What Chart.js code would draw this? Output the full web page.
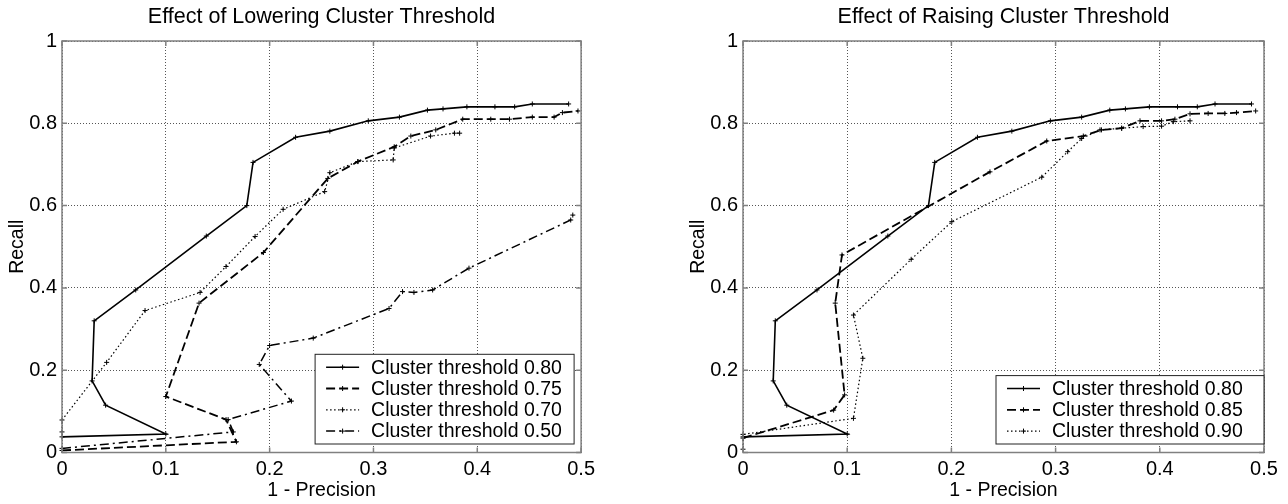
<!DOCTYPE html>
<html lang="en">
<head>
<meta charset="UTF-8" />
<title>Effect of Cluster Threshold</title>
<script src="https://cdn.jsdelivr.net/npm/chart.js"></script>
<style>
  body { margin: 0; background: #fff; width: 1288px; height: 504px; overflow: hidden; position: relative; }
  canvas { position: absolute; top: 0; }
  #lowerChart { left: 0; }
  #raiseChart { left: 681px; }
</style>
</head>
<body>
<canvas id="lowerChart" width="600" height="504"></canvas>
<canvas id="raiseChart" width="607" height="504"></canvas>
<script>
  // axis ticks
  const xTicks = [0, 0.1, 0.2, 0.3, 0.4, 0.5];
  const xTickLabels = ['0', '0.1', '0.2', '0.3', '0.4', '0.5'];
  const yTicks = [0, 0.2, 0.4, 0.6, 0.8, 1];
  const yTickLabels = ['0', '0.2', '0.4', '0.6', '0.8', '1'];

  // threshold 0.80 (same run in both plots), x = 1 - precision, y = recall
  const t80x = [0, 0.1, 0.042, 0.029, 0.031, 0.071, 0.139, 0.178, 0.184, 0.225, 0.258, 0.295, 0.325, 0.352, 0.367, 0.390, 0.417, 0.436, 0.453, 0.488];
  const t80y = [0.038, 0.045, 0.115, 0.174, 0.320, 0.395, 0.526, 0.600, 0.705, 0.766, 0.781, 0.806, 0.815, 0.832, 0.835, 0.840, 0.840, 0.840, 0.847, 0.847];

  // lowering
  const t75x = [0, 0.168, 0.158, 0.1, 0.132, 0.194, 0.256, 0.285, 0.320, 0.336, 0.360, 0.386, 0.413, 0.431, 0.453, 0.474, 0.482, 0.497];
  const t75y = [0.005, 0.026, 0.08, 0.136, 0.363, 0.486, 0.666, 0.707, 0.743, 0.769, 0.784, 0.81, 0.81, 0.81, 0.815, 0.815, 0.826, 0.830];
  const t70x = [0, 0, 0.043, 0.080, 0.133, 0.158, 0.186, 0.213, 0.253, 0.258, 0.285, 0.319, 0.32, 0.355, 0.378, 0.383];
  const t70y = [0.05, 0.079, 0.219, 0.345, 0.389, 0.452, 0.525, 0.591, 0.634, 0.68, 0.707, 0.711, 0.74, 0.769, 0.776, 0.776];
  const t50x = [0, 0.165, 0.16, 0.221, 0.19, 0.2, 0.242, 0.315, 0.328, 0.339, 0.357, 0.392, 0.490, 0.492];
  const t50y = [0.01, 0.05, 0.08, 0.125, 0.214, 0.26, 0.278, 0.350, 0.391, 0.389, 0.395, 0.448, 0.565, 0.577];

  // raising
  const t85x = [0, 0.087, 0.0975, 0.0885, 0.095, 0.237, 0.2915, 0.3266, 0.344, 0.3634, 0.381, 0.4017, 0.4145, 0.429, 0.4464, 0.4624, 0.4736, 0.492];
  const t85y = [0.035, 0.103, 0.14, 0.363, 0.48, 0.682, 0.757, 0.769, 0.784, 0.788, 0.806, 0.806, 0.81, 0.823, 0.824, 0.824, 0.826, 0.830];
  const t90x = [0, 0, 0.106, 0.115, 0.106, 0.1614, 0.2004, 0.2867, 0.3116, 0.325, 0.3426, 0.3634, 0.384, 0.4017, 0.413, 0.429];
  const t90y = [0.008, 0.044, 0.083, 0.229, 0.334, 0.4695, 0.561, 0.669, 0.731, 0.763, 0.784, 0.788, 0.792, 0.793, 0.804, 0.806];

  const FONT = 'Arial, "Liberation Sans", Helvetica, sans-serif';
  const SOLID = [], DASHED = [9, 4], DOTTED = [1.5, 2.5], DASHDOT = [9, 4, 2, 4];

  function pts(xs, ys) {
    return xs.map((x, i) => ({ x: x, y: ys[i] }));
  }

  function series(label, xs, ys, dash, width) {
    return {
      label: label,
      data: pts(xs, ys),
      showLine: true,
      borderColor: '#000',
      backgroundColor: '#000',
      borderWidth: width,
      borderDash: dash,
      pointStyle: 'cross',
      pointRadius: 2.5,
      pointBorderWidth: 1,
      pointBorderColor: '#000',
      clip: false
    };
  }

  // matlab style box with inward ticks, title centred over the axes
  const framePlugin = {
    id: 'frame',
    afterDatasetsDraw(chart, args, opts) {
      const { ctx, chartArea: a, scales } = chart;
      ctx.save();
      ctx.strokeStyle = '#808080';
      ctx.lineWidth = 1.5;
      ctx.setLineDash([]);
      ctx.strokeRect(a.left, a.top, a.right - a.left, a.bottom - a.top);
      ctx.beginPath();
      xTicks.forEach(v => {
        const px = scales.x.getPixelForValue(v);
        ctx.moveTo(px, a.bottom); ctx.lineTo(px, a.bottom - 5);
        ctx.moveTo(px, a.top); ctx.lineTo(px, a.top + 5);
      });
      yTicks.forEach(v => {
        const py = scales.y.getPixelForValue(v);
        ctx.moveTo(a.left, py); ctx.lineTo(a.left + 5, py);
        ctx.moveTo(a.right, py); ctx.lineTo(a.right - 5, py);
      });
      ctx.stroke();

      ctx.fillStyle = '#000';
      ctx.font = '21.5px ' + FONT;
      ctx.textAlign = 'center';
      ctx.textBaseline = 'middle';
      ctx.fillText(opts.text, (a.left + a.right) / 2, 17);
      ctx.restore();
    }
  };

  // legend box in the lower right corner of the plot
  const boxLegend = {
    id: 'boxLegend',
    afterDraw(chart, args, opts) {
      const { ctx, chartArea } = chart;
      const sets = chart.data.datasets;
      const rowH = 21.3;
      const h = sets.length * rowH + 4.5;
      const x0 = chartArea.right - opts.right - opts.width;
      const y0 = chartArea.bottom - opts.bottom - h;
      ctx.save();
      ctx.fillStyle = '#fff';
      ctx.fillRect(x0, y0, opts.width, h);
      ctx.strokeStyle = '#222';
      ctx.lineWidth = 1;
      ctx.setLineDash([]);
      ctx.strokeRect(x0, y0, opts.width, h);
      ctx.font = '19.5px ' + FONT;
      ctx.textBaseline = 'middle';
      ctx.textAlign = 'left';
      ctx.fillStyle = '#000';
      sets.forEach((ds, i) => {
        const cy = y0 + 2.25 + rowH * (i + 0.5);
        ctx.strokeStyle = '#000';
        ctx.lineWidth = ds.borderWidth;
        ctx.setLineDash(ds.borderDash || []);
        ctx.beginPath();
        ctx.moveTo(x0 + 11, cy);
        ctx.lineTo(x0 + 44, cy);
        ctx.stroke();
        ctx.setLineDash([]);
        ctx.lineWidth = 1;
        const mx = x0 + 27.5;
        ctx.beginPath();
        ctx.moveTo(mx - 2.5, cy); ctx.lineTo(mx + 2.5, cy);
        ctx.moveTo(mx, cy - 2.5); ctx.lineTo(mx, cy + 2.5);
        ctx.stroke();
        ctx.fillText(ds.label, x0 + 56, cy + 1);
      });
      ctx.restore();
    }
  };

  function makeChart(id, title, datasets, padRight, legendOpts) {
    return new Chart(document.getElementById(id), {
      type: 'scatter',
      data: { datasets: datasets },
      options: {
        responsive: false,
        animation: false,
        devicePixelRatio: 1,
        layout: { padding: { left: 0, right: padRight, top: 41, bottom: 0 } },
        plugins: {
          legend: { display: false },
          tooltip: { enabled: false },
          title: { display: false },
          frame: { text: title },
          boxLegend: legendOpts
        },
        scales: {
          x: {
            type: 'linear', min: 0, max: 0.5,
            afterBuildTicks: s => { s.ticks = xTicks.map(v => ({ value: v })); },
            afterFit: s => { s.height = 51.5; },
            grid: { color: '#555', lineWidth: 1, drawTicks: false },
            border: { display: false, dash: [1, 2] },
            ticks: {
              padding: 5, color: '#000', maxRotation: 0, autoSkip: false,
              font: { family: FONT, size: 20 },
              callback: (v, i) => xTickLabels[i]
            },
            title: {
              display: true, text: '1 - Precision', color: '#000',
              font: { family: FONT, size: 19.5 }, padding: { top: 0, bottom: 2 }
            }
          },
          y: {
            type: 'linear', min: 0, max: 1,
            afterBuildTicks: s => { s.ticks = yTicks.map(v => ({ value: v })); },
            afterFit: s => { s.width = 62; },
            grid: { color: '#555', lineWidth: 1, drawTicks: false },
            border: { display: false, dash: [1, 2] },
            ticks: {
              padding: 5, color: '#000', autoSkip: false,
              font: { family: FONT, size: 20 },
              callback: (v, i) => yTickLabels[i]
            },
            title: {
              display: true, text: 'Recall', color: '#000',
              font: { family: FONT, size: 19.5 }, padding: { top: 6, bottom: 0 }
            }
          }
        }
      },
      plugins: [framePlugin, boxLegend]
    });
  }

  makeChart('lowerChart', 'Effect of Lowering Cluster Threshold', [
    series('Cluster threshold 0.80', t80x, t80y, SOLID, 1.6),
    series('Cluster threshold 0.75', t75x, t75y, DASHED, 1.8),
    series('Cluster threshold 0.70', t70x, t70y, DOTTED, 1.2),
    series('Cluster threshold 0.50', t50x, t50y, DASHDOT, 1.5)
  ], 18, { right: 7, bottom: 8.5, width: 259 });

  makeChart('raiseChart', 'Effect of Raising Cluster Threshold', [
    series('Cluster threshold 0.80', t80x, t80y, SOLID, 1.6),
    series('Cluster threshold 0.85', t85x, t85y, DASHED, 1.8),
    series('Cluster threshold 0.90', t90x, t90y, DOTTED, 1.2)
  ], 24, { right: 0, bottom: 8.5, width: 268 });
</script>
</body>
</html>
